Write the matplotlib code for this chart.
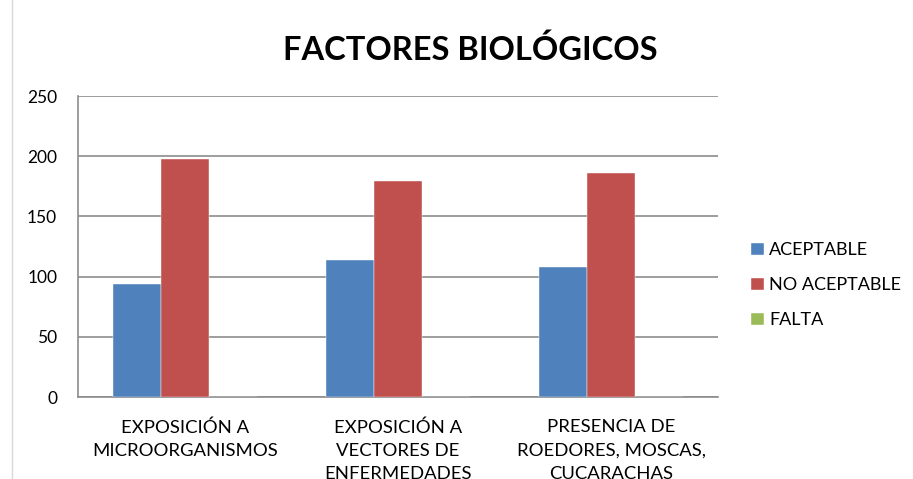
import matplotlib
matplotlib.use("Agg")
import matplotlib.pyplot as plt
import numpy as np
from matplotlib.lines import Line2D

categories = ["EXPOSICIÓN A\nMICROORGANISMOS",
              "EXPOSICIÓN A\nVECTORES DE\nENFERMEDADES",
              "PRESENCIA DE\nROEDORES, MOSCAS,\nCUCARACHAS"]
series_names = ["ACEPTABLE", "NO ACEPTABLE", "FALTA"]
aceptable = [94, 114, 108]
no_aceptable = [198, 179, 186]
falta = [0, 0, 0]
colors = ["#4F81BD", "#C0504D", "#9BBB59"]
yticks = [0, 50, 100, 150, 200, 250]

plt.rcParams['font.family'] = ['Lato', 'DejaVu Sans']

fig = plt.figure(figsize=(9.13, 4.79), dpi=100)
ax = fig.add_axes([78/913, 1-397/479, 640/913, 301/479])

x = np.arange(len(categories))
w = 0.225
for i, (vals, name) in enumerate(zip([aceptable, no_aceptable, falta], series_names)):
    ax.bar(x + (i-1)*w, vals, width=w, color=colors[i], label=name, zorder=3,
           edgecolor='white', linewidth=0.3)

ax.set_xlim(-0.5, 2.5)
ax.set_ylim(0, 250)
ax.set_yticks(yticks)
ax.set_yticklabels([str(t) for t in yticks], fontsize=12.5)
ax.yaxis.grid(True, color='#8C8C8C', linewidth=1.2, zorder=0)
ax.set_xticks(x)
ax.set_xticklabels(categories, fontsize=13.3, linespacing=1.55, va='top')
ax.tick_params(axis='x', length=0, pad=16)
ax.tick_params(axis='y', length=0, pad=15)
for s in ['top', 'right']:
    ax.spines[s].set_visible(False)
ax.spines['left'].set_color('#8C8C8C')
ax.spines['left'].set_linewidth(1.2)
ax.spines['bottom'].set_color('#8C8C8C')
ax.spines['bottom'].set_linewidth(1.2)

fig.text(470/913, 1-50/479, "FACTORES BIOLÓGICOS", ha='center', va='center',
         fontsize=23.5, fontweight='bold')

leg = fig.legend(loc='upper left', bbox_to_anchor=(735/913, 1-226/479), frameon=False,
                 fontsize=13, handlelength=0.7, handleheight=0.7, handletextpad=0.3,
                 labelspacing=1.05)

fig.add_artist(Line2D([12/913, 12/913], [0, 1], color='#D9D9D9', linewidth=1,
                      transform=fig.transFigure))

fig.savefig("out.png", dpi=100)
